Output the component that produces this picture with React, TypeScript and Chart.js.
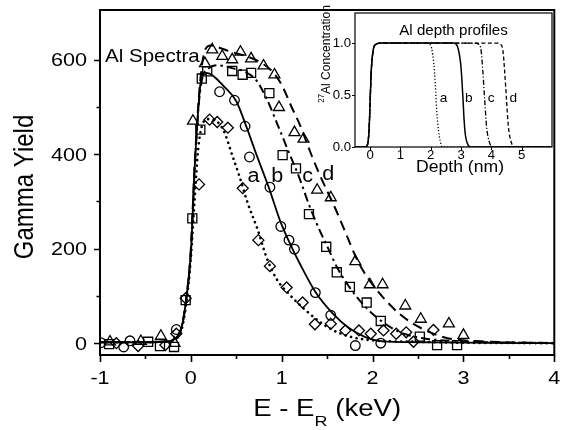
import React, { useEffect, useRef } from "react";
import { Chart, registerables } from "chart.js";

Chart.register(...registerables);

const FONT = '"Liberation Sans", Arial, Helvetica, sans-serif';

// ---------------- Main chart (Gamma Yield vs E - E_R) ----------------
const X_MAJOR = [-1, 0, 1, 2, 3, 4];
const X_MINOR = [-0.5, 0.5, 1.5, 2.5, 3.5];
const Y_MAJOR = [0, 200, 400, 600];
const Y_MINOR = [100, 300, 500];

// fitted curves
const FIT_A_X = [-1, -0.6, -0.3, -0.2, -0.15, -0.1, -0.05, 0, 0.04, 0.08, 0.12, 0.18, 0.26, 0.36, 0.46, 0.535, 0.626, 0.736, 0.83, 0.94, 1.1, 1.25, 1.4, 1.55, 1.75, 2.0, 2.5, 3, 4];
const FIT_A_Y = [2, 2, 3, 6, 12, 30, 85, 180, 300, 410, 458, 474, 472, 450, 395, 353, 296, 240, 183, 137, 100, 72, 48, 29, 14, 6, 3, 1, 0];

const FIT_B_X = [-1, -0.6, -0.3, -0.2, -0.15, -0.1, -0.05, 0, 0.04, 0.08, 0.11, 0.17, 0.25, 0.35, 0.5, 0.6, 0.72, 0.86, 0.99, 1.1, 1.2, 1.375, 1.56, 1.74, 1.92, 2.11, 2.5, 3, 4];
const FIT_B_Y = [2, 2, 3, 6, 14, 35, 95, 190, 365, 490, 555, 572, 565, 546, 512, 464, 400, 328, 255, 207, 168, 107, 63, 32, 13, 4, 2, 1, 0];

const FIT_C_X = [-1, -0.6, -0.3, -0.2, -0.15, -0.1, -0.05, 0, 0.04, 0.08, 0.12, 0.2, 0.3, 0.45, 0.6, 0.717, 0.83, 0.955, 1.065, 1.19, 1.3, 1.41, 1.52, 1.61, 1.74, 1.85, 2.0, 2.11, 2.29, 2.54, 3.0, 4];
const FIT_C_Y = [2, 2, 3, 6, 14, 35, 95, 195, 360, 490, 555, 582, 588, 582, 574, 557, 519, 462, 410, 352, 293, 242, 197, 160, 120, 92, 62, 45, 24, 11, 4, 0];

const FIT_D_X = [-1, -0.6, -0.3, -0.2, -0.15, -0.1, -0.05, 0, 0.04, 0.08, 0.12, 0.16, 0.22, 0.3, 0.45, 0.6, 0.75, 0.88, 0.99, 1.12, 1.2, 1.28, 1.34, 1.41, 1.5, 1.59, 1.7, 1.81, 1.9, 2.0, 2.11, 2.29, 2.44, 2.62, 2.84, 3.2, 4];
const FIT_D_Y = [2, 2, 3, 6, 14, 35, 95, 200, 370, 500, 585, 622, 630, 626, 616, 608, 596, 578, 550, 495, 462, 422, 392, 360, 322, 285, 235, 185, 152, 124, 98, 63, 42, 24, 10, 4, 0];

// measured spectra (a: diamonds, b: circles, c: squares, d: triangles)
const PTS_A_X = [-0.82, -0.58, -0.28, -0.16, -0.057, 0.09, 0.206, 0.29, 0.407, 0.571, 0.743, 0.87, 1.054, 1.23, 1.365, 1.54, 1.70, 1.85, 1.98, 2.12, 2.26, 2.37, 2.45, 2.67];
const PTS_A_Y = [0, -6, -4, 20, 95, 336, 473, 468, 456, 328, 218, 163, 118, 86, 40, 41, 27, 27, 20, 27, 20, 23, 3, 28];

const PTS_B_X = [-0.99, -0.74, -0.67, -0.16, 0.316, 0.48, 0.597, 0.645, 0.87, 0.99, 1.08, 1.14, 1.37, 1.54, 1.81, 2.09];
const PTS_B_Y = [1, -8, 5, 29, 532, 514, 459, 394, 330, 247, 218, 199, 107, 59, -5, 0];

const PTS_C_X = [-0.9, -0.47, -0.34, -0.185, -0.057, 0.016, 0.104, 0.12, 0.18, 0.455, 0.57, 0.663, 0.864, 1.01, 1.157, 1.30, 1.49, 1.606, 1.75, 1.935, 2.09, 2.52, 2.71, 2.93];
const PTS_C_Y = [-2, 3, -6, -8, 91, 264, 452, 560, 575, 576, 568, 572, 529, 398, 370, 273, 204, 150, 119, 86, 47, 14, -4, -4];

const PTS_D_X = [-0.89, -0.55, -0.33, -0.18, 0.023, 0.155, 0.235, 0.345, 0.455, 0.546, 0.663, 0.80, 0.92, 0.97, 1.14, 1.24, 1.39, 1.54, 1.81, 1.97, 2.11, 2.36, 2.53, 2.84, 3.0];
const PTS_D_Y = [3, 4, 15, 0, 470, 592, 621, 607, 600, 616, 602, 587, 568, 499, 446, 432, 324, 308, 173, 124, 124, 79, 51, 41, 17];

// curve labels (data coordinates)
const MAIN_NOTES = [
  { t: "Al Spectra", x: -0.945, y: 596 },
  { t: "a", x: 0.623, y: 341 },
  { t: "b", x: 0.886, y: 341 },
  { t: "c", x: 1.226, y: 341 },
  { t: "d", x: 1.445, y: 346 },
];

// ---------------- Inset (Al depth profiles) ----------------
const IN_X_MAJOR = [0, 1, 2, 3, 4, 5];
const IN_Y_MAJOR = [0, 0.5, 1.0];
const IN_Y_LABELS = ["0.0", "0.5", "1.0"];

const DEP_A_X = [-0.5, -0.15, -0.08, -0.03, 0, 0.04, 0.1, 0.2, 0.35, 1.8, 1.95, 2.03, 2.1, 2.15, 2.2, 2.26, 2.31, 2.38, 6];
const DEP_A_Y = [0, 0, 0.03, 0.2, 0.45, 0.75, 0.93, 0.99, 1, 1, 0.99, 0.95, 0.8, 0.6, 0.33, 0.15, 0.06, 0, 0];

const DEP_B_X = [-0.5, -0.15, -0.08, -0.03, 0, 0.04, 0.1, 0.2, 0.35, 2.75, 2.86, 2.95, 3.0, 3.06, 3.1, 3.14, 3.2, 3.3, 6];
const DEP_B_Y = [0, 0, 0.03, 0.2, 0.45, 0.75, 0.93, 0.99, 1, 1, 0.98, 0.88, 0.76, 0.48, 0.26, 0.12, 0.04, 0, 0];

const DEP_C_X = [-0.5, -0.15, -0.08, -0.03, 0, 0.04, 0.1, 0.2, 0.35, 3.45, 3.58, 3.66, 3.72, 3.78, 3.84, 3.92, 4.05, 6];
const DEP_C_Y = [0, 0, 0.03, 0.2, 0.45, 0.75, 0.93, 0.99, 1, 1, 0.99, 0.93, 0.72, 0.45, 0.2, 0.06, 0, 0];

const DEP_D_X = [-0.5, -0.15, -0.08, -0.03, 0, 0.04, 0.1, 0.2, 0.35, 4.18, 4.3, 4.38, 4.44, 4.5, 4.56, 4.64, 4.78, 6];
const DEP_D_Y = [0, 0, 0.03, 0.2, 0.45, 0.75, 0.93, 0.99, 1, 1, 0.99, 0.93, 0.72, 0.45, 0.2, 0.06, 0, 0];

const INSET_NOTES = [
  { t: "a", x: 2.3, y: 0.433 },
  { t: "b", x: 3.13, y: 0.433 },
  { t: "c", x: 3.88, y: 0.433 },
  { t: "d", x: 4.6, y: 0.433 },
];

// ---------------- helpers ----------------
type Part = { t: string; size: number; dy?: number };

function drawParts(
  ctx: CanvasRenderingContext2D,
  parts: Part[],
  x: number,
  y: number,
  align: "left" | "center" | "right",
  sx = 1,
  sy = 1,
  rot = 0
) {
  ctx.save();
  ctx.translate(x, y);
  if (rot) ctx.rotate(rot);
  ctx.scale(sx, sy);
  ctx.fillStyle = "#000";
  ctx.textAlign = "left";
  ctx.textBaseline = "alphabetic";
  let total = 0;
  const widths: number[] = [];
  for (const p of parts) {
    ctx.font = `${p.size}px ${FONT}`;
    const w = ctx.measureText(p.t).width;
    widths.push(w);
    total += w;
  }
  let cur = align === "left" ? 0 : align === "center" ? -total / 2 : -total;
  parts.forEach((p, i) => {
    ctx.font = `${p.size}px ${FONT}`;
    ctx.fillText(p.t, cur, p.dy || 0);
    cur += widths[i];
  });
  ctx.restore();
}

const xy = (xs: number[], ys: number[]) => xs.map((x, i) => ({ x, y: ys[i] }));

function lineDs(xs: number[], ys: number[], dash: number[], width: number, cap: any = "butt") {
  return {
    data: xy(xs, ys),
    borderColor: "#000",
    borderWidth: width,
    borderDash: dash,
    borderCapStyle: cap,
    pointRadius: 0,
    fill: false,
    showLine: true,
    cubicInterpolationMode: "monotone",
  };
}

function ptDs(xs: number[], ys: number[], style: string, r: number) {
  return {
    data: xy(xs, ys),
    showLine: false,
    pointStyle: style,
    pointRadius: r,
    pointBorderWidth: 1.3,
    pointBorderColor: "#000",
    pointBackgroundColor: "rgba(0,0,0,0)",
    borderColor: "#000",
  };
}

const mainDecor = {
  id: "mainDecor",
  afterDraw(chart: any) {
    const ctx: CanvasRenderingContext2D = chart.ctx;
    const { left, right, top, bottom } = chart.chartArea;
    const xs = chart.scales.x;
    const ys = chart.scales.y;
    ctx.save();
    ctx.strokeStyle = "#000";
    // ticks
    ctx.lineWidth = 1.6;
    ctx.beginPath();
    X_MAJOR.forEach((v) => {
      const p = Math.round(xs.getPixelForValue(v)) + 0.5;
      ctx.moveTo(p, bottom);
      ctx.lineTo(p, bottom + 7);
    });
    X_MINOR.forEach((v) => {
      const p = Math.round(xs.getPixelForValue(v)) + 0.5;
      ctx.moveTo(p, bottom);
      ctx.lineTo(p, bottom + 4);
    });
    Y_MAJOR.forEach((v) => {
      const p = Math.round(ys.getPixelForValue(v)) + 0.5;
      ctx.moveTo(left, p);
      ctx.lineTo(left - 6, p);
    });
    Y_MINOR.forEach((v) => {
      const p = Math.round(ys.getPixelForValue(v)) + 0.5;
      ctx.moveTo(left, p);
      ctx.lineTo(left - 3.5, p);
    });
    ctx.stroke();
    // frame
    ctx.lineWidth = 2;
    ctx.strokeRect(left, top, right - left, bottom - top);
    ctx.restore();

    // tick labels
    X_MAJOR.forEach((v) => {
      drawParts(ctx, [{ t: String(v), size: 18 }], xs.getPixelForValue(v), bottom + 29, "center", 1.2);
    });
    Y_MAJOR.forEach((v) => {
      drawParts(ctx, [{ t: String(v), size: 18 }], left - 13, ys.getPixelForValue(v) + 6.6, "right", 1.2);
    });

    // axis titles
    drawParts(
      ctx,
      [
        { t: "E - E", size: 23 },
        { t: "R", size: 15, dy: 10 },
        { t: " (keV)", size: 23 },
      ],
      (left + right) / 2,
      416,
      "center",
      1.2
    );
    drawParts(ctx, [{ t: "Gamma Yield", size: 24 }], 33, 187, "center", 1, 1.12, -Math.PI / 2);

    // notes
    MAIN_NOTES.forEach((n) => {
      drawParts(ctx, [{ t: n.t, size: n.t.length > 1 ? 19 : 20 }], xs.getPixelForValue(n.x), ys.getPixelForValue(n.y), "left", 1.08);
    });
  },
};

const insetDecor = {
  id: "insetDecor",
  beforeDraw(chart: any) {
    const ctx: CanvasRenderingContext2D = chart.ctx;
    const { left, right, top, bottom } = chart.chartArea;
    ctx.save();
    ctx.fillStyle = "#fff";
    ctx.fillRect(left, top, right - left, bottom - top);
    ctx.restore();
  },
  afterDraw(chart: any) {
    const ctx: CanvasRenderingContext2D = chart.ctx;
    const { left, right, top, bottom } = chart.chartArea;
    const xs = chart.scales.x;
    const ys = chart.scales.y;
    ctx.save();
    ctx.strokeStyle = "#000";
    ctx.lineWidth = 1;
    ctx.beginPath();
    IN_X_MAJOR.forEach((v) => {
      const p = Math.round(xs.getPixelForValue(v)) + 0.5;
      ctx.moveTo(p, bottom);
      ctx.lineTo(p, bottom + 3);
    });
    IN_Y_MAJOR.forEach((v) => {
      const p = Math.round(ys.getPixelForValue(v)) + 0.5;
      ctx.moveTo(left, p);
      ctx.lineTo(left - 3, p);
    });
    ctx.stroke();
    ctx.lineWidth = 1.2;
    ctx.strokeRect(left, top, right - left, bottom - top);
    ctx.restore();

    IN_X_MAJOR.forEach((v) => {
      drawParts(ctx, [{ t: String(v), size: 12 }], xs.getPixelForValue(v), 159, "center", 1.1);
    });
    IN_Y_MAJOR.forEach((v, i) => {
      drawParts(ctx, [{ t: IN_Y_LABELS[i], size: 12 }], left - 4, ys.getPixelForValue(v) + 4.3, "right", 1.1);
    });
    drawParts(ctx, [{ t: "Al depth profiles", size: 14 }], (left + right) / 2, 35, "center", 1.08);
    drawParts(ctx, [{ t: "Depth (nm)", size: 16 }], 160, 172, "center", 1.1);
    drawParts(
      ctx,
      [
        { t: "27", size: 8, dy: -5 },
        { t: "Al Concentration", size: 12 },
      ],
      30,
      54,
      "center",
      1,
      1.12,
      -Math.PI / 2
    );
    INSET_NOTES.forEach((n) => {
      drawParts(ctx, [{ t: n.t, size: 13 }], xs.getPixelForValue(n.x), ys.getPixelForValue(n.y), "left", 1.05);
    });
  },
};

export default function App() {
  const mainRef = useRef<HTMLCanvasElement | null>(null);
  const insetRef = useRef<HTMLCanvasElement | null>(null);

  useEffect(() => {
    if (!mainRef.current || !insetRef.current) return;
    const main = new Chart(mainRef.current, {
      type: "line",
      data: {
        datasets: [
          lineDs(FIT_B_X, FIT_B_Y, [], 1.8),
          lineDs(FIT_A_X, FIT_A_Y, [0.1, 5.5], 2.6, "round"),
          lineDs(FIT_C_X, FIT_C_Y, [9, 4, 2.5, 4], 2),
          lineDs(FIT_D_X, FIT_D_Y, [10, 6], 2),
          ptDs(PTS_A_X, PTS_A_Y, "rectRot", 5.5),
          ptDs(PTS_B_X, PTS_B_Y, "circle", 4.8),
          ptDs(PTS_C_X, PTS_C_Y, "rect", 6.4),
          ptDs(PTS_D_X, PTS_D_Y, "triangle", 6.3),
        ] as any,
      },
      options: {
        responsive: false,
        animation: false,
        events: [],
        layout: { padding: { top: 10, right: 6, left: 0, bottom: 0 } },
        plugins: { legend: { display: false }, tooltip: { enabled: false } },
        scales: {
          x: {
            type: "linear",
            min: -1,
            max: 4,
            grid: { display: false },
            border: { display: false },
            ticks: { display: false, stepSize: 1 },
            afterFit: (s: any) => {
              s.height = 75;
            },
          },
          y: {
            type: "linear",
            min: -25,
            max: 705,
            grid: { display: false },
            border: { display: false },
            ticks: { display: false, stepSize: 200 },
            afterFit: (s: any) => {
              s.width = 100;
            },
          },
        },
      } as any,
      plugins: [mainDecor],
    });

    const inset = new Chart(insetRef.current, {
      type: "line",
      data: {
        datasets: [
          lineDs(DEP_B_X, DEP_B_Y, [], 1.5),
          lineDs(DEP_A_X, DEP_A_Y, [1.2, 2], 1.3),
          lineDs(DEP_C_X, DEP_C_Y, [5, 2, 1.2, 2], 1.3),
          lineDs(DEP_D_X, DEP_D_Y, [4, 2.5], 1.3),
        ] as any,
      },
      options: {
        responsive: false,
        animation: false,
        events: [],
        layout: { padding: { top: 13, right: 10, left: 0, bottom: 0 } },
        plugins: { legend: { display: false }, tooltip: { enabled: false } },
        scales: {
          x: {
            type: "linear",
            min: -0.5,
            max: 6,
            grid: { display: false },
            border: { display: false },
            ticks: { display: false, stepSize: 1 },
            afterFit: (s: any) => {
              s.height = 33;
            },
          },
          y: {
            type: "linear",
            min: 0,
            max: 1.29,
            grid: { display: false },
            border: { display: false },
            ticks: { display: false, stepSize: 0.5 },
            afterFit: (s: any) => {
              s.width = 55;
            },
          },
        },
      } as any,
      plugins: [insetDecor],
    });

    return () => {
      main.destroy();
      inset.destroy();
    };
  }, []);

  return (
    <div style={{ position: "absolute", left: 0, top: 0, width: 562, height: 430, background: "#fff" }}>
      <canvas ref={mainRef} width={562} height={430} style={{ position: "absolute", left: 0, top: 0 }} />
      <canvas ref={insetRef} width={262} height={180} style={{ position: "absolute", left: 300, top: 0 }} />
    </div>
  );
}
